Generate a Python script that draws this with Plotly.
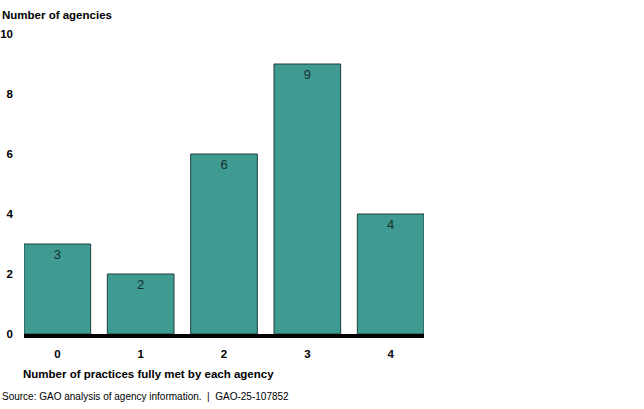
import plotly.graph_objects as go

categories = ["0", "1", "2", "3", "4"]
agencies = [3, 2, 6, 9, 4]
y_ticks = [0, 2, 4, 6, 8, 10]

FONT = "Liberation Sans, Arial, sans-serif"

fig = go.Figure(
    go.Bar(
        x=list(range(len(categories))),
        y=agencies,
        text=agencies,
        textposition="inside",
        insidetextanchor="end",
        textfont=dict(family=FONT, size=13, color="#16302e"),
        marker=dict(color="#3f9a92", line=dict(color="#1d3f3c", width=1)),
        width=0.8,
        cliponaxis=False,
    )
)

fig.update_layout(
    width=644,
    height=409,
    margin=dict(l=24, r=220, t=34, b=75, autoexpand=False),
    paper_bgcolor="white",
    plot_bgcolor="white",
    showlegend=False,
    font=dict(family=FONT, color="black"),
    xaxis=dict(
        range=[-0.4, 4.4],
        tickmode="array",
        tickvals=list(range(len(categories))),
        ticktext=[f"<b>{c}</b>" for c in categories],
        tickfont=dict(size=11.5),
        showgrid=False,
        zeroline=False,
        showline=True,
        linecolor="black",
        linewidth=4,
        ticks="",
        ticklabelstandoff=6,
    ),
    yaxis=dict(
        range=[0, 10],
        tickvals=y_ticks,
        ticktext=[f"<b>{t}</b>" for t in y_ticks],
        tickfont=dict(size=11.5),
        showgrid=False,
        zeroline=False,
        showline=False,
        ticks="",
        ticklabelstandoff=10,
    ),
    annotations=[
        dict(text="<b>Number of agencies</b>", x=0, y=1, xref="paper", yref="paper",
             xanchor="left", yanchor="middle", xshift=-24, yshift=19,
             showarrow=False, font=dict(size=11.5)),
        dict(text="<b>Number of practices fully met by each agency</b>", x=0, y=0,
             xref="paper", yref="paper", xanchor="left", yanchor="middle",
             xshift=-3, yshift=-40, showarrow=False, font=dict(size=11.5)),
        dict(text="Source: GAO analysis of agency information.  |  GAO-25-107852",
             x=0, y=0, xref="paper", yref="paper", xanchor="left", yanchor="middle",
             xshift=-24, yshift=-62, showarrow=False, font=dict(size=10)),
    ],
)

# drop the page's default body margin so the figure sits at the window's corner
fig.write_html(
    "out.html",
    config={"displayModeBar": False},
    post_script="document.body.style.margin = '0';",
)
